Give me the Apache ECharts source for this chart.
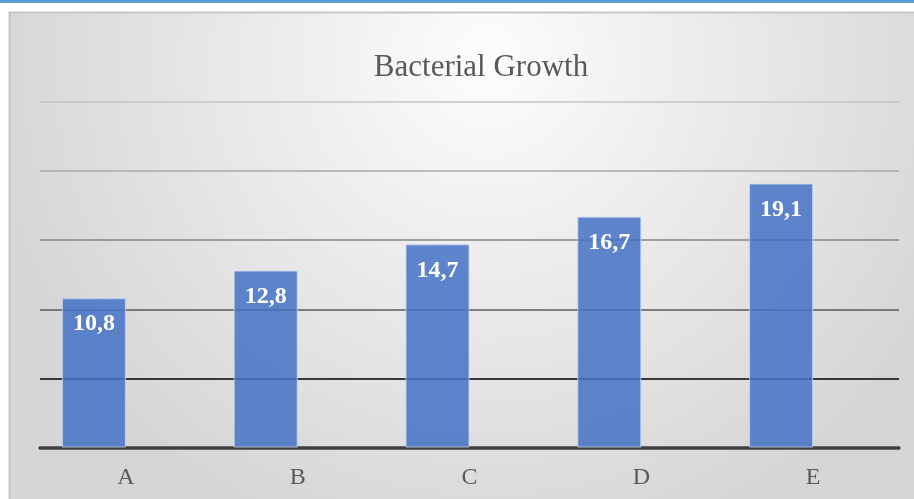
<!DOCTYPE html>
<html>
<head>
<meta charset="utf-8">
<script src="https://cdn.jsdelivr.net/npm/echarts@6/dist/echarts.min.js"></script>
<style>
html,body{margin:0;padding:0;background:#fff;}
#chart{width:914px;height:499px;}
</style>
</head>
<body>
<div id="chart"></div>
<script>
const titleText = 'Bacterial Growth';
const categories = ['A', 'B', 'C', 'D', 'E'];
const growthValues = [10.8, 12.8, 14.7, 16.7, 19.1];
const emptySeries = [null, null, null, null, null];
const yMin = 0, yMax = 25, yInterval = 5;

const chart = echarts.init(document.getElementById('chart'), null, {renderer: 'canvas'});
const serif = "'Liberation Serif', 'Times New Roman', serif";

chart.setOption({
  animation: false,
  graphic: [
    {type: 'rect', z: -10, silent: true, shape: {x: 0, y: 0, width: 914, height: 3}, style: {fill: '#5b9bd5'}},
    {type: 'rect', z: -10, silent: true, shape: {x: 9.5, y: 12.5, width: 920, height: 500},
      style: {
        fill: {type: 'radial', x: 0.52, y: 0.1, r: 1.0,
          colorStops: [{offset: 0, color: '#fdfdfd'}, {offset: 0.4, color: '#ededed'}, {offset: 1, color: '#d6d6d6'}]},
        stroke: '#c6c6c6', lineWidth: 2
      }}
  ],
  title: {
    text: titleText,
    left: 476, top: 47, textAlign: 'center',
    textStyle: {fontFamily: serif, fontSize: 31, fontWeight: 'normal', color: '#595959'}
  },
  grid: {left: 40, right: 15, top: 102, bottom: 51.5, containLabel: false},
  xAxis: {
    type: 'category',
    data: categories,
    axisLine: {show: true, lineStyle: {color: '#404040', width: 3.5}},
    axisTick: {show: false},
    axisLabel: {margin: 18, fontFamily: serif, fontSize: 24, color: '#595959'},
    splitLine: {show: false}
  },
  yAxis: {
    type: 'value',
    min: yMin, max: yMax, interval: yInterval,
    axisLine: {show: false},
    axisTick: {show: false},
    axisLabel: {show: false},
    splitLine: {show: true, lineStyle: {width: 1.5, color: ['#404040', '#000000', '#5a5a5a', '#858585', '#a8a8a8', '#c4c4c4']}}
  },
  series: [
    {
      name: 'Growth',
      type: 'bar',
      data: growthValues,
      barWidth: 64,
      barGap: '0%',
      itemStyle: {color: 'rgba(68,114,196,0.85)', borderColor: 'rgba(200,215,240,0.8)', borderWidth: 1},
      label: {
        show: true, position: 'insideTop', distance: 14,
        fontFamily: serif, fontSize: 24, fontWeight: 'bold', color: '#ffffff',
        formatter: p => String(p.value).replace('.', ',')
      }
    },
    {
      name: '',
      type: 'bar',
      data: emptySeries,
      barWidth: 64,
      barGap: '0%'
    }
  ]
});
</script>
</body>
</html>
